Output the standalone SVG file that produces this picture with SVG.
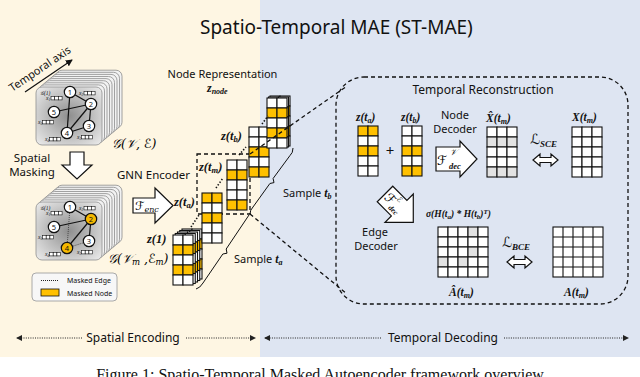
<svg xmlns="http://www.w3.org/2000/svg" xmlns:xlink="http://www.w3.org/1999/xlink" width="640" height="377" viewBox="0 0 640 377">
<defs>
<style>
.sans{font-family:"Noto Sans","DejaVu Sans",sans-serif;fill:#111}
.m{font-family:"Liberation Serif","DejaVu Serif",serif;font-style:italic;font-weight:bold;fill:#111}
.scr{font-family:"DejaVu Serif","DejaVu Sans",serif;font-style:italic;font-weight:normal}
.cw{fill:#fff;stroke:#111;stroke-width:1.1}
.cy{fill:#FFC000;stroke:#111;stroke-width:1.1}
.cg{fill:#e2e2e2;stroke:#111;stroke-width:1.1}
.bcard{fill:#f2f2f2;stroke:#8c8c8c;stroke-width:0.8}
.edge{stroke:#111;stroke-width:1.2}
.medge{stroke:#333;stroke-width:0.8;stroke-dasharray:1,1}
.nd{fill:#fff;stroke:#111;stroke-width:1.2}
.ndy{fill:#F5B800;stroke:#111;stroke-width:1.2}
.nl{font-family:"Noto Sans",sans-serif;font-size:7.5px;text-anchor:middle;fill:#111}
.fb{fill:#fff;stroke:#111;stroke-width:0.6}
.fx{font-family:"Liberation Serif",serif;font-style:italic;font-size:5.5px;fill:#111}
.dash{fill:none;stroke:#111;stroke-width:1.3;stroke-dasharray:4,3}
.dots{fill:none;stroke:#111;stroke-width:1.6;stroke-dasharray:1.4,1.8}
.brace{fill:none;stroke:#111;stroke-width:1}
.big{fill:#fff;stroke:#111;stroke-width:1.2}
.bot{fill:none;stroke:#222;stroke-width:1.2;stroke-dasharray:1,1.3}
</style>
<radialGradient id="cardg" cx="50%" cy="50%" r="65%">
<stop offset="0" stop-color="#8e8e8e"/><stop offset="1" stop-color="#e6e6e6"/>
</radialGradient>
<marker id="tri" viewBox="0 0 6 6" refX="5" refY="3" markerWidth="6" markerHeight="6" markerUnits="userSpaceOnUse" orient="auto-start-reverse"><path d="M0,0 L6,3 L0,6 z" fill="#222"/></marker>
<marker id="ah" viewBox="0 0 8 8" refX="7" refY="4" markerWidth="7" markerHeight="7" markerUnits="userSpaceOnUse" orient="auto"><path d="M0,0 L8,4 L0,8 z" fill="#111"/></marker>
<g id="feat"><rect class="fb" x="0" y="0" width="3.7" height="3.4"/><rect class="fb" x="3.7" y="0" width="3.7" height="3.4"/><rect class="fb" x="7.4" y="0" width="3.7" height="3.4"/></g>
<g id="stack">
<rect class="bcard" x="56" y="70.2" width="66" height="58" rx="6"/>
<rect class="bcard" x="53.5" y="72.3" width="66" height="58" rx="6"/>
<rect class="bcard" x="51" y="74.4" width="66" height="58" rx="6"/>
<rect class="bcard" x="48.5" y="76.5" width="66" height="58" rx="6"/>
<rect class="bcard" x="46" y="78.6" width="66" height="58" rx="6"/>
<rect class="bcard" x="43.5" y="80.7" width="66" height="58" rx="6"/>
<rect class="bcard" x="41" y="82.8" width="66" height="58" rx="6"/>
<rect class="bcard" x="38.5" y="84.9" width="66" height="58" rx="6"/>
<rect x="36" y="87" width="66" height="58" rx="6" fill="url(#cardg)" stroke="#999" stroke-width="0.9"/>
</g>
<g id="feats">
<text class="fx" x="46" y="100">x<tspan font-size="3.5" dy="1">1</tspan></text><use xlink:href="#feat" x="51" y="96.5"/>
<text class="fx" x="79" y="95">x<tspan font-size="3.5" dy="1">2</tspan></text><use xlink:href="#feat" x="84" y="91.5"/>
<text class="fx" x="38" y="124">x<tspan font-size="3.5" dy="1">5</tspan></text><use xlink:href="#feat" x="42.5" y="120.5"/>
<text class="fx" x="45" y="141">x<tspan font-size="3.5" dy="1">4</tspan></text><use xlink:href="#feat" x="49.5" y="137.5"/>
<text class="fx" x="77" y="139">x<tspan font-size="3.5" dy="1">3</tspan></text><use xlink:href="#feat" x="81.5" y="135.5"/>
<text class="fx" x="40" y="94.5" font-size="6px">𝒢(1)</text>
</g>
<g id="cWYWYW"><rect class="cw" x="0" y="0" width="10" height="10"/><rect class="cw" x="10" y="0" width="10" height="10"/><rect class="cy" x="0" y="10" width="10" height="10"/><rect class="cy" x="10" y="10" width="10" height="10"/><rect class="cw" x="0" y="20" width="10" height="10"/><rect class="cw" x="10" y="20" width="10" height="10"/><rect class="cy" x="0" y="30" width="10" height="10"/><rect class="cy" x="10" y="30" width="10" height="10"/><rect class="cw" x="0" y="40" width="10" height="10"/><rect class="cw" x="10" y="40" width="10" height="10"/></g>
<g id="cYWYWW"><rect class="cy" x="0" y="0" width="10" height="10"/><rect class="cy" x="10" y="0" width="10" height="10"/><rect class="cw" x="0" y="10" width="10" height="10"/><rect class="cw" x="10" y="10" width="10" height="10"/><rect class="cy" x="0" y="20" width="10" height="10"/><rect class="cy" x="10" y="20" width="10" height="10"/><rect class="cw" x="0" y="30" width="10" height="10"/><rect class="cw" x="10" y="30" width="10" height="10"/><rect class="cw" x="0" y="40" width="10" height="10"/><rect class="cw" x="10" y="40" width="10" height="10"/></g>
<g id="cWYWWY"><rect class="cw" x="0" y="0" width="10" height="10"/><rect class="cw" x="10" y="0" width="10" height="10"/><rect class="cy" x="0" y="10" width="10" height="10"/><rect class="cy" x="10" y="10" width="10" height="10"/><rect class="cw" x="0" y="20" width="10" height="10"/><rect class="cw" x="10" y="20" width="10" height="10"/><rect class="cw" x="0" y="30" width="10" height="10"/><rect class="cw" x="10" y="30" width="10" height="10"/><rect class="cy" x="0" y="40" width="10" height="10"/><rect class="cy" x="10" y="40" width="10" height="10"/></g>
<g id="cWWYWY"><rect class="cw" x="0" y="0" width="10" height="10"/><rect class="cw" x="10" y="0" width="10" height="10"/><rect class="cw" x="0" y="10" width="10" height="10"/><rect class="cw" x="10" y="10" width="10" height="10"/><rect class="cy" x="0" y="20" width="10" height="10"/><rect class="cy" x="10" y="20" width="10" height="10"/><rect class="cw" x="0" y="30" width="10" height="10"/><rect class="cw" x="10" y="30" width="10" height="10"/><rect class="cy" x="0" y="40" width="10" height="10"/><rect class="cy" x="10" y="40" width="10" height="10"/></g>
</defs>

<rect x="0" y="0" width="260" height="357" fill="#FEF6E3"/>
<rect x="260" y="0" width="380" height="357" fill="#DEE5F2"/>
<rect x="0" y="357" width="640" height="20" fill="#fff"/>

<text class="sans" x="200" y="33.5" font-size="19">Spatio-Temporal MAE (ST-MAE)</text>

<g id="temporal-axis">
<line x1="25" y1="92" x2="72" y2="60" stroke="#111" stroke-width="1.2" marker-end="url(#ah)"/>
<text class="sans" font-size="11" text-anchor="middle" transform="translate(40,69) rotate(-34)" dy="3.5">Temporal axis</text>
</g>

<g id="graph-full">
<use xlink:href="#stack"/>
<line class="edge" x1="70" y1="92" x2="91" y2="104"/>
<line class="edge" x1="70" y1="92" x2="67" y2="133"/>
<line class="edge" x1="54" y1="112" x2="91" y2="104"/>
<line class="edge" x1="91" y1="104" x2="67" y2="133"/>
<line class="edge" x1="91" y1="104" x2="89" y2="126"/>
<line class="edge" x1="67" y1="133" x2="89" y2="126"/>
<circle class="nd" cx="70" cy="92" r="5.7"/><text class="nl" x="70" y="94.7">1</text>
<circle class="nd" cx="91" cy="104" r="5.7"/><text class="nl" x="91" y="106.7">2</text>
<circle class="nd" cx="54" cy="112" r="5.7"/><text class="nl" x="54" y="114.7">5</text>
<circle class="nd" cx="67" cy="133" r="5.7"/><text class="nl" x="67" y="135.7">4</text>
<circle class="nd" cx="89" cy="126" r="5.7"/><text class="nl" x="89" y="128.7">3</text>
<use xlink:href="#feats"/>
<text class="scr" x="112" y="148" font-size="12.5" font-weight="bold">𝒢(𝒱, ℰ)</text>
</g>

<g id="spatial-masking">
<polygon class="big" points="70,152 84,152 84,165 92,165 77,179 62,165 70,165"/>
<text class="sans" font-size="11.5" text-anchor="middle" x="32" y="162">Spatial</text>
<text class="sans" font-size="11.5" text-anchor="middle" x="32" y="176">Masking</text>
</g>

<g id="graph-masked" transform="translate(0,115)">
<use xlink:href="#stack"/>
<line class="edge" x1="70" y1="92" x2="91" y2="104"/>
<line class="medge" x1="70" y1="92" x2="67" y2="133"/>
<line class="edge" x1="54" y1="112" x2="91" y2="104"/>
<line class="edge" x1="91" y1="104" x2="67" y2="133"/>
<line class="edge" x1="91" y1="104" x2="89" y2="126"/>
<line class="medge" x1="67" y1="133" x2="89" y2="126"/>
<circle class="nd" cx="70" cy="92" r="5.7"/><text class="nl" x="70" y="94.7">1</text>
<circle class="ndy" cx="91" cy="104" r="5.7"/><text class="nl" x="91" y="106.7">2</text>
<circle class="nd" cx="54" cy="112" r="5.7"/><text class="nl" x="54" y="114.7">5</text>
<circle class="ndy" cx="67" cy="133" r="5.7"/><text class="nl" x="67" y="135.7">4</text>
<circle class="nd" cx="89" cy="126" r="5.7"/><text class="nl" x="89" y="128.7">3</text>
<use xlink:href="#feats"/>
</g>
<text class="scr" x="108" y="263" font-size="12.5" font-weight="bold">𝒢(𝒱<tspan font-size="8.5" dy="2">m</tspan><tspan dy="-2"> ,ℰ</tspan><tspan font-size="8.5" dy="2">m</tspan><tspan dy="-2">)</tspan></text>

<g id="legend">
<rect x="32" y="273" width="85" height="28" rx="4" fill="#f7f7f7" stroke="#a0a0a0" stroke-width="0.9"/>
<line x1="41" y1="280.5" x2="59" y2="280.5" stroke="#222" stroke-width="1" stroke-dasharray="1,1"/>
<text class="sans" x="67" y="283" font-size="7">Masked Edge</text>
<rect x="41" y="289" width="18" height="7" fill="#FFC000" stroke="#111" stroke-width="0.8"/>
<text class="sans" x="67" y="296" font-size="7">Masked Node</text>
</g>

<g id="gnn-encoder">
<text class="sans" x="153.5" y="179" font-size="11.5" text-anchor="middle">GNN Encoder</text>
<polygon class="big" points="133,198 155,198 155,188 173,205.5 155,223 155,213 133,213"/>
<text class="scr" x="135" y="209.5" font-size="12" font-weight="bold">ℱ<tspan font-size="8" dy="2">enc</tspan></text>
</g>

<g id="node-representation">
<text class="sans" x="222.5" y="78" font-size="11" text-anchor="middle">Node Representation</text>
<text class="m" x="207" y="92" font-size="12">z<tspan font-size="8" dy="2">node</tspan></text>
<rect class="dash" x="197" y="154" width="53" height="60"/>
<use xlink:href="#cWYWYW" x="182" y="229"/>
<use xlink:href="#cWYWYW" x="179.75" y="230.5"/>
<use xlink:href="#cWYWYW" x="177.5" y="232"/>
<use xlink:href="#cWYWYW" x="175.25" y="233.5"/>
<use xlink:href="#cWYWYW" x="173" y="235"/>
<use xlink:href="#cYWYWW" x="202" y="193"/>
<use xlink:href="#cWYWWY" x="227" y="160"/>
<use xlink:href="#cWWYWY" x="249" y="127"/>
<use xlink:href="#cWYWYW" x="270" y="96"/>
<use xlink:href="#cWYWYW" x="268.5" y="97"/>
<use xlink:href="#cWYWYW" x="267" y="98"/>
<line class="dots" x1="191" y1="227" x2="199" y2="215"/>
<line class="dots" x1="216" y1="188" x2="223" y2="178"/>
<line class="dots" x1="239" y1="155" x2="246" y2="147"/>
<line class="dots" x1="262" y1="124" x2="268" y2="116"/>
<text class="m" x="147" y="243" font-size="12.5">z(1)</text>
<text class="m" x="174" y="206" font-size="12.5">z(t<tspan font-size="8.5" dy="2">a</tspan><tspan dy="-2">)</tspan></text>
<text class="m" x="199" y="171" font-size="12.5">z(t<tspan font-size="8.5" dy="2">m</tspan><tspan dy="-2">)</tspan></text>
<text class="m" x="221" y="140" font-size="12.5">z(t<tspan font-size="8.5" dy="2">b</tspan><tspan dy="-2">)</tspan></text>
</g>

<g id="connectors">
<line class="dash" x1="250" y1="154" x2="347" y2="86"/>
<line class="dash" x1="250" y1="214" x2="347" y2="294"/>
<path class="brace" d="M293,148 Q293,153 290,155.5 L273.1,178.5 L274,182.6 L269.9,183.5 L253,207 Q250,210 250,214"/>
<path class="brace" d="M249,215 L226.2,249 L227,253.2 L222.8,254 L203,283 Q200,288 196,289"/>
</g>
<text class="sans" x="283" y="197" font-size="11">Sample <tspan class="m" font-size="12">t<tspan font-size="8" dy="2">b</tspan></tspan></text>
<text class="sans" x="234" y="263" font-size="11">Sample <tspan class="m" font-size="12">t<tspan font-size="8" dy="2">a</tspan></tspan></text>

<g id="temporal-reconstruction">
<rect class="dash" x="336" y="77" width="292" height="227" rx="28"/>
<text class="sans" x="483" y="94" font-size="12" text-anchor="middle">Temporal Reconstruction</text>
<text class="m" x="356" y="121" font-size="11.5">z(t<tspan font-size="8" dy="2">a</tspan><tspan dy="-2">)</tspan></text>
<text class="m" x="401" y="121" font-size="11.5">z(t<tspan font-size="8" dy="2">b</tspan><tspan dy="-2">)</tspan></text>
<use xlink:href="#cYWYWW" x="358" y="126"/>
<use xlink:href="#cWWYWY" x="402" y="126"/>
<text class="sans" x="390" y="156" font-size="15" text-anchor="middle">+</text>
</g>

<g id="node-decoder">
<text class="sans" x="455" y="119" font-size="11" text-anchor="middle">Node</text>
<text class="sans" x="455" y="133" font-size="11" text-anchor="middle">Decoder</text>
<polygon class="big" points="436,147 460,147 460,141 477,159 460,177 460,171 436,171"/>
<text class="scr" x="437" y="165" font-size="13" font-weight="bold">ℱ</text>
<text class="scr" x="450" y="155" font-size="8.5" font-weight="bold">𝒱</text>
<text class="m" x="449" y="169" font-size="8.5">dec</text>
</g>

<g id="x-hat">
<text class="m" x="486" y="122" font-size="11.5">X̂(t<tspan font-size="8" dy="2">m</tspan><tspan dy="-2">)</tspan></text>
<rect class="cw" x="487" y="127" width="10" height="10"/><rect class="cw" x="497" y="127" width="10" height="10"/><rect class="cw" x="507" y="127" width="10" height="10"/>
<rect class="cg" x="487" y="137" width="10" height="10"/><rect class="cg" x="497" y="137" width="10" height="10"/><rect class="cg" x="507" y="137" width="10" height="10"/>
<rect class="cw" x="487" y="147" width="10" height="10"/><rect class="cw" x="497" y="147" width="10" height="10"/><rect class="cw" x="507" y="147" width="10" height="10"/>
<rect class="cw" x="487" y="157" width="10" height="10"/><rect class="cw" x="497" y="157" width="10" height="10"/><rect class="cw" x="507" y="157" width="10" height="10"/>
<rect class="cg" x="487" y="167" width="10" height="10"/><rect class="cg" x="497" y="167" width="10" height="10"/><rect class="cg" x="507" y="167" width="10" height="10"/>
</g>

<g id="loss-sce">
<text class="m" x="530" y="144" font-size="14"><tspan class="scr" font-weight="bold">ℒ</tspan><tspan font-size="9" dy="2.5">SCE</tspan></text>
<path class="big" d="M533,160 L540,154 V157.5 H551 V154 L558,160 L551,166 V162.5 H540 V166 Z"/>
</g>

<g id="x-true">
<text class="m" x="572" y="121" font-size="11.5">X(t<tspan font-size="8" dy="2">m</tspan><tspan dy="-2">)</tspan></text>
<rect class="cw" x="572" y="127" width="10" height="10"/><rect class="cw" x="582" y="127" width="10" height="10"/><rect class="cw" x="592" y="127" width="10" height="10"/>
<rect class="cw" x="572" y="137" width="10" height="10"/><rect class="cw" x="582" y="137" width="10" height="10"/><rect class="cw" x="592" y="137" width="10" height="10"/>
<rect class="cw" x="572" y="147" width="10" height="10"/><rect class="cw" x="582" y="147" width="10" height="10"/><rect class="cw" x="592" y="147" width="10" height="10"/>
<rect class="cw" x="572" y="157" width="10" height="10"/><rect class="cw" x="582" y="157" width="10" height="10"/><rect class="cw" x="592" y="157" width="10" height="10"/>
<rect class="cw" x="572" y="167" width="10" height="10"/><rect class="cw" x="582" y="167" width="10" height="10"/><rect class="cw" x="592" y="167" width="10" height="10"/>
</g>

<g id="edge-decoder">
<g transform="translate(385,194) rotate(45)">
<path class="big" d="M0,-11 H20 V-20 L40,0 L20,20 V11 H0 Z"/>
<text class="scr" x="2" y="4" font-size="13" font-weight="bold">ℱ</text>
<text class="scr" x="12" y="-4" font-size="7.5" font-weight="bold">ℰ</text>
<text class="m" x="12" y="8" font-size="7.5">dec</text>
</g>
<text class="sans" x="375" y="236" font-size="11" text-anchor="middle">Edge</text>
<text class="sans" x="376" y="250" font-size="11" text-anchor="middle">Decoder</text>
</g>

<g id="a-hat">
<text class="m" x="426" y="217" font-size="9.5">σ(H(t<tspan font-size="7" dy="1.5">a</tspan><tspan dy="-1.5">) * H(t</tspan><tspan font-size="7" dy="1.5">b</tspan><tspan dy="-1.5">)</tspan><tspan font-size="7" dy="-3">T</tspan><tspan dy="3">)</tspan></text>
<g>
<rect class="cw" x="438" y="227" width="10" height="10"/><rect class="cw" x="448" y="227" width="10" height="10"/><rect class="cw" x="458" y="227" width="10" height="10"/><rect class="cg" x="468" y="227" width="10" height="10"/><rect class="cw" x="478" y="227" width="10" height="10"/>
<rect class="cw" x="438" y="237" width="10" height="10"/><rect class="cw" x="448" y="237" width="10" height="10"/><rect class="cw" x="458" y="237" width="10" height="10"/><rect class="cw" x="468" y="237" width="10" height="10"/><rect class="cw" x="478" y="237" width="10" height="10"/>
<rect class="cw" x="438" y="247" width="10" height="10"/><rect class="cw" x="448" y="247" width="10" height="10"/><rect class="cw" x="458" y="247" width="10" height="10"/><rect class="cg" x="468" y="247" width="10" height="10"/><rect class="cw" x="478" y="247" width="10" height="10"/>
<rect class="cg" x="438" y="257" width="10" height="10"/><rect class="cw" x="448" y="257" width="10" height="10"/><rect class="cg" x="458" y="257" width="10" height="10"/><rect class="cw" x="468" y="257" width="10" height="10"/><rect class="cw" x="478" y="257" width="10" height="10"/>
<rect class="cw" x="438" y="267" width="10" height="10"/><rect class="cw" x="448" y="267" width="10" height="10"/><rect class="cw" x="458" y="267" width="10" height="10"/><rect class="cw" x="468" y="267" width="10" height="10"/><rect class="cw" x="478" y="267" width="10" height="10"/>
</g>
<text class="m" x="449" y="296" font-size="11.5">Â(t<tspan font-size="8" dy="2">m</tspan><tspan dy="-2">)</tspan></text>
</g>

<g id="loss-bce">
<text class="m" x="502" y="247" font-size="14"><tspan class="scr" font-weight="bold">ℒ</tspan><tspan font-size="9" dy="2.5">BCE</tspan></text>
<path class="big" d="M507,262 L514,256 V259.5 H525 V256 L532,262 L525,268 V264.5 H514 V268 Z"/>
</g>

<g id="a-true">
<rect x="553" y="227" width="50" height="50" fill="#fff" stroke="#111" stroke-width="1.1"/>
<path d="M563,227 V277 M573,227 V277 M583,227 V277 M593,227 V277 M553,237 H603 M553,247 H603 M553,257 H603 M553,267 H603" stroke="#111" stroke-width="1.1"/>
<text class="m" x="564" y="296" font-size="11.5">A(t<tspan font-size="8" dy="2">m</tspan><tspan dy="-2">)</tspan></text>
</g>

<g id="bottom-axis">
<line class="bot" x1="82" y1="338" x2="17" y2="338" marker-end="url(#tri)"/>
<text class="sans" x="133" y="342" font-size="12" text-anchor="middle">Spatial Encoding</text>
<line class="bot" x1="186" y1="338" x2="255" y2="338" marker-end="url(#tri)"/>
<line class="bot" x1="381" y1="338" x2="265" y2="338" marker-end="url(#tri)"/>
<text class="sans" x="443" y="342" font-size="12" text-anchor="middle">Temporal Decoding</text>
<line class="bot" x1="504" y1="338" x2="628" y2="338" marker-end="url(#tri)"/>
</g>

<text x="320" y="380" font-family="'Liberation Serif',serif" font-size="16" text-anchor="middle" fill="#111">Figure 1: Spatio-Temporal Masked Autoencoder framework overview</text>
</svg>
